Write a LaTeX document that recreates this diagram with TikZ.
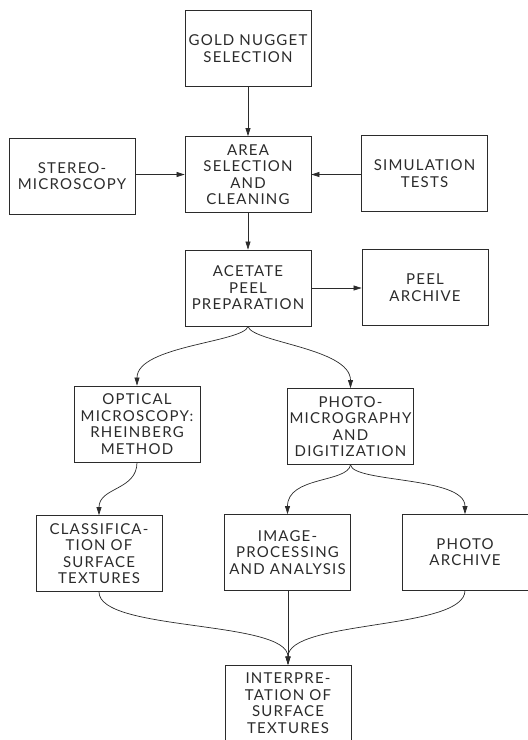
\documentclass[tikz,border=0pt]{standalone}
\usepackage{fontspec}
\setmainfont{Lato}[LetterSpace=8]
\usetikzlibrary{arrows.meta}
\definecolor{ink}{HTML}{2B2B2B}
\tikzset{
  box/.style={draw=ink, line width=0.8pt, minimum width=126pt, minimum height=76pt,
    inner sep=1pt, align=center, text=ink,
    font=\fontsize{15pt}{16.5pt}\selectfont},
  conn/.style={draw=ink, line width=0.7pt, -{Triangle[length=8pt,width=5pt]}}
}
\begin{document}
\begin{tikzpicture}[x=1pt,y=-1pt]
\useasboundingbox (0,0) rectangle (528,740);
\node[box] (gold) at (248,48.5) {GOLD NUGGET\\SELECTION};
\node[box] (area) at (248,174.5) {AREA\\SELECTION\\AND\\CLEANING};
\node[box] (stereo) at (72,176) {STEREO-\\MICROSCOPY};
\node[box] (sim) at (424.5,173.5) {SIMULATION\\TESTS};
\node[box] (acet) at (248,288) {ACETATE\\PEEL\\PREPARATION};
\node[box] (peel) at (425,287.5) {PEEL\\ARCHIVE};
\node[box] (opt) at (137,424) {OPTICAL\\MICROSCOPY:\\RHEINBERG\\METHOD};
\node[box] (pmic) at (350.5,426.5) {PHOTO-\\MICROGRAPHY\\AND\\DIGITIZATION};
\node[box] (class) at (99,553.5) {CLASSIFICA-\\TION OF\\SURFACE\\TEXTURES};
\node[box] (img) at (287.5,552.5) {IMAGE-\\PROCESSING\\AND ANALYSIS};
\node[box] (parch) at (465,552) {PHOTO\\ARCHIVE};
\node[box] (interp) at (288,703) {INTERPRE-\\TATION OF\\SURFACE\\TEXTURES};

\draw[conn] (gold) -- (area);
\draw[conn] (stereo.east |- area.west) -- (area.west);
\draw[conn] (sim.west |- area.east) -- (area.east);
\draw[conn] (area) -- (acet);
\draw[conn] (acet) -- (acet.east -| peel.west);

\draw[conn] (acet.south) .. controls +(-4,16) and +(0,-40) .. (opt.north);
\draw[conn] (acet.south) .. controls +(4,16) and +(0,-40) .. (pmic.north);
\draw[conn] (opt.south) .. controls +(0,28) and +(0,-28) .. (class.north);
\draw[conn] (pmic.south) .. controls +(-3,18) and +(0,-38) .. (img.north);
\draw[conn] (pmic.south) .. controls +(3,18) and +(0,-38) .. (parch.north |- img.north);
\draw[conn] (class.south) .. controls +(0,40) and +(0,-45) .. (interp.north);
\draw[conn] (img.south -| interp.north) -- (interp.north);
\draw[conn] (parch.south) .. controls +(0,40) and +(0,-45) .. (interp.north);
\end{tikzpicture}
\end{document}
